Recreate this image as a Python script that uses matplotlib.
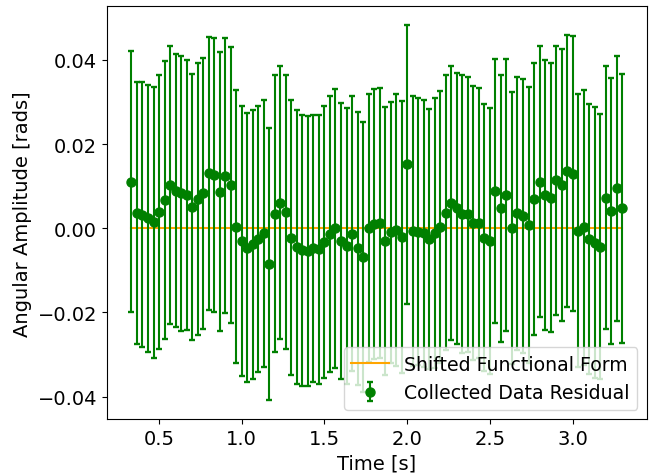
import numpy as np
import matplotlib
matplotlib.use("Agg")
import matplotlib.pyplot as plt

plt.rcParams["font.size"] = 14

# Sample times: video frames at 30 fps, frames 10..99
frames = np.arange(10, 100)
time_s = frames / 30.0

# Residual of the measured angle after subtracting the fitted model [rad]
residual = [
    0.0110, 0.0036, 0.0032, 0.0024, 0.0014, 0.0039, 0.0067, 0.0102, 0.0089, 0.0083,
    0.0079, 0.0051, 0.0069, 0.0083, 0.0131, 0.0126, 0.0087, 0.0125, 0.0103, 0.0004,
    -0.0030, -0.0046, -0.0038, -0.0025, -0.0012, -0.0086, 0.0035, 0.0061, 0.0039, -0.0022,
    -0.0044, -0.0052, -0.0054, -0.0048, -0.0050, -0.0033, -0.0014, 0.0000, -0.0030, -0.0042,
    -0.0013, -0.0048, -0.0068, 0.0000, 0.0010, 0.0013, -0.0030, -0.0010, -0.0004, -0.0020,
    0.0152, -0.0006, -0.0008, -0.0012, -0.0026, -0.0012, 0.0004, 0.0037, 0.0060, 0.0047,
    0.0033, 0.0033, 0.0013, 0.0012, -0.0022, -0.0030, 0.0089, 0.0047, 0.0079, 0.0000,
    0.0036, 0.0029, 0.0008, 0.0069, 0.0111, 0.0079, 0.0073, 0.0114, 0.0102, 0.0136,
    0.0130, -0.0006, 0.0002, -0.0026, -0.0034, -0.0044, 0.0073, 0.0041, 0.0095, 0.0047,
]

# Uncertainty on each residual [rad]
uncertainty = [
    0.0310, 0.0311, 0.0315, 0.0317, 0.0322, 0.0326, 0.0330, 0.0330, 0.0324, 0.0327,
    0.0321, 0.0316, 0.0323, 0.0322, 0.0324, 0.0326, 0.0332, 0.0327, 0.0328, 0.0324,
    0.0320, 0.0319, 0.0320, 0.0316, 0.0317, 0.0323, 0.0329, 0.0325, 0.0326, 0.0327,
    0.0326, 0.0322, 0.0321, 0.0318, 0.0320, 0.0323, 0.0328, 0.0331, 0.0328, 0.0328,
    0.0327, 0.0324, 0.0321, 0.0318, 0.0320, 0.0320, 0.0319, 0.0311, 0.0323, 0.0323,
    0.0331, 0.0321, 0.0317, 0.0317, 0.0309, 0.0321, 0.0323, 0.0326, 0.0326, 0.0323,
    0.0330, 0.0327, 0.0326, 0.0321, 0.0316, 0.0316, 0.0313, 0.0317, 0.0322, 0.0323,
    0.0324, 0.0325, 0.0328, 0.0323, 0.0322, 0.0321, 0.0319, 0.0319, 0.0323, 0.0324,
    0.0326, 0.0324, 0.0327, 0.0321, 0.0322, 0.0315, 0.0313, 0.0315, 0.0315, 0.0320,
]

model_shift = np.zeros_like(time_s)

fig = plt.figure(figsize=(6.52, 4.77), dpi=100)
ax = fig.add_axes([0.164, 0.119, 0.828, 0.866])

ax.plot(time_s, model_shift, color="orange", label="Shifted Functional Form")
ax.errorbar(time_s, residual, yerr=uncertainty, fmt="o", color="green",
            markersize=6.5, capsize=2, capthick=1.7, label="Collected Data Residual")

ax.set_xlabel("Time [s]")
ax.set_ylabel("Angular Amplitude [rads]")
ax.legend(loc="lower right", fontsize=13.6)

fig.savefig("out.png", dpi=100)
